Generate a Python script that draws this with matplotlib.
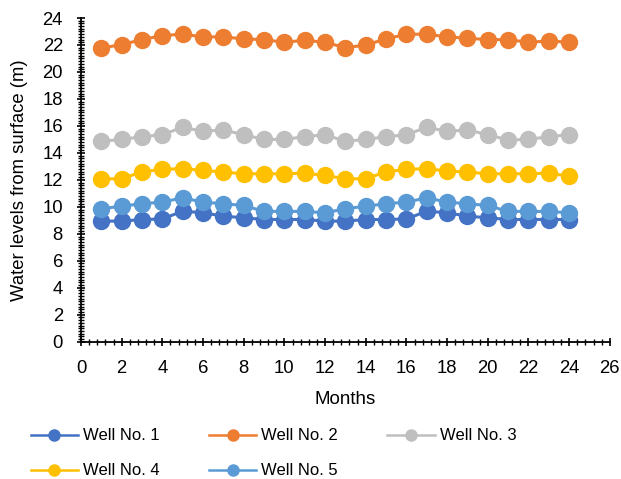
import matplotlib
matplotlib.use("Agg")
import matplotlib.pyplot as plt
from matplotlib.lines import Line2D
from matplotlib.ticker import MultipleLocator

plt.rcParams['font.family'] = ['Liberation Sans', 'DejaVu Sans']

months = list(range(1, 25))
well1 = [8.94, 8.94, 9.06, 9.10, 9.68, 9.56, 9.31, 9.19, 9.06, 9.06, 9.06, 8.94,
         8.94, 9.06, 9.06, 9.10, 9.68, 9.56, 9.31, 9.19, 9.06, 9.06, 9.06, 9.06]
well2 = [21.77, 22.03, 22.40, 22.70, 22.80, 22.60, 22.60, 22.45, 22.40, 22.20, 22.35, 22.20,
         21.80, 22.00, 22.45, 22.80, 22.80, 22.60, 22.50, 22.40, 22.40, 22.20, 22.30, 22.20]
well3 = [14.86, 15.00, 15.20, 15.35, 15.90, 15.60, 15.70, 15.35, 15.00, 15.00, 15.20, 15.35,
         14.86, 15.00, 15.20, 15.35, 15.90, 15.60, 15.70, 15.35, 14.95, 15.00, 15.20, 15.35]
well4 = [12.08, 12.08, 12.60, 12.78, 12.83, 12.70, 12.58, 12.45, 12.45, 12.45, 12.50, 12.33,
         12.08, 12.08, 12.60, 12.78, 12.83, 12.65, 12.58, 12.45, 12.45, 12.45, 12.50, 12.27]
well5 = [9.86, 10.05, 10.23, 10.35, 10.67, 10.35, 10.23, 10.10, 9.66, 9.66, 9.66, 9.56,
         9.86, 10.05, 10.23, 10.35, 10.67, 10.35, 10.23, 10.10, 9.66, 9.66, 9.66, 9.56]

names = ["Well No. 1", "Well No. 2", "Well No. 3", "Well No. 4", "Well No. 5"]
colors = ["#4472C4", "#ED7D31", "#BFBFBF", "#FFC000", "#5B9BD5"]
series = [well1, well2, well3, well4, well5]

fig = plt.figure(figsize=(6.21, 4.79), dpi=100)
ax = fig.add_axes([0.1304, 0.2866, 0.982 - 0.1304, 0.9624 - 0.2866])

for vals, c, n in zip(series, colors, names):
    ax.plot(months, vals, color=c, lw=2.2, marker='o', markersize=11.5,
            markerfacecolor=c, markeredgecolor=c, label=n)

ax.set_xlim(0, 26)
ax.set_ylim(0, 24)
ax.xaxis.set_major_locator(MultipleLocator(2))
ax.xaxis.set_minor_locator(MultipleLocator(0.4))
ax.yaxis.set_major_locator(MultipleLocator(2))
ax.yaxis.set_minor_locator(MultipleLocator(0.2))
for s in ['top', 'right']:
    ax.spines[s].set_visible(False)
for s in ['left', 'bottom']:
    ax.spines[s].set_linewidth(1.3)
    ax.spines[s].set_color('black')
ax.tick_params(axis='both', which='major', labelsize=13.3, direction='inout',
               length=6, width=1.2, colors='black', pad=10)
ax.tick_params(axis='both', which='minor', direction='inout', length=4, width=1.0)

ax.set_xlabel("Months", fontsize=13.5, labelpad=10)
ax.set_ylabel("Water levels from surface (m)", fontsize=13.3, labelpad=10)

handles = [Line2D([0], [0], color=c, lw=1.8, marker='o', markersize=8,
                  markerfacecolor=c, markeredgecolor=c) for c in colors]
order = [0, 3, 1, 4, 2]
fig.legend([handles[i] for i in order], [names[i] for i in order],
           loc='lower left', bbox_to_anchor=(0.025, -0.03),
           ncol=3, frameon=False, fontsize=12, handlelength=2.85,
           columnspacing=2.95, handletextpad=0.3, labelspacing=1.2)

fig.savefig("out.png", dpi=100)
